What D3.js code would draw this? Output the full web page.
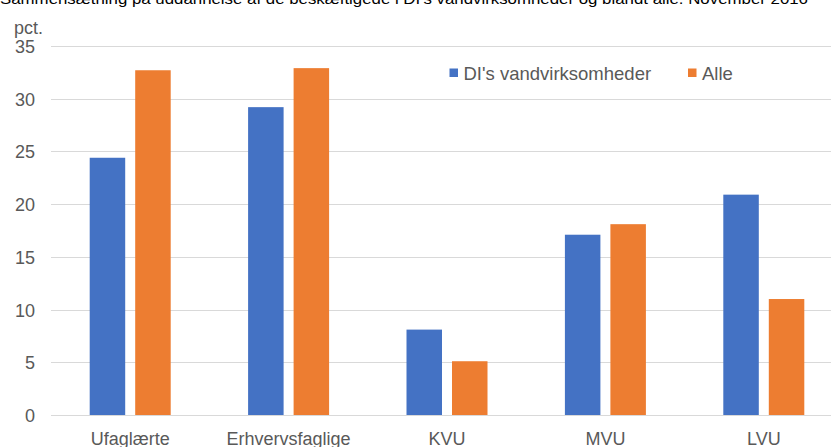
<!DOCTYPE html>
<html><head><meta charset="utf-8">
<script src="https://cdn.jsdelivr.net/npm/d3@7"></script>
<style>body{margin:0;background:#fff}svg{display:block}</style>
</head><body>
<script>
const titleText = "Sammensætning på uddannelse af de beskæftigede i DI's vandvirksomheder og blandt alle. November 2016";
const categories = ["Ufaglærte", "Erhvervsfaglige", "KVU", "MVU", "LVU"];
const seriesNames = ["DI's vandvirksomheder", "Alle"];
const diValues = [24.4, 29.2, 8.1, 17.1, 20.9];
const alleValues = [32.7, 32.9, 5.1, 18.1, 11.0];
const yTicks = [0, 5, 10, 15, 20, 25, 30, 35];
const colors = ["#4472c4", "#ed7d31"];

(function () {
const W = 831, H = 447;
const svg = d3.select("body").append("svg").attr("width", W).attr("height", H);
const font = "'Liberation Sans', Arial, sans-serif";

svg.append("text").attr("x", 0).attr("y", 4).attr("font-family", font)
  .attr("font-size", 15).attr("fill", "#000").attr("textLength", 808)
  .attr("lengthAdjust", "spacingAndGlyphs").text(titleText);

const pLeft = 51, pRight = 843, pTop = 46, pBottom = 415;
const x = d3.scaleBand().domain(categories).range([pLeft, pRight]).paddingInner(0).paddingOuter(0);
const y = d3.scaleLinear().domain([0, 35]).range([pBottom, pTop]);

// gridlines
svg.append("g").selectAll("line").data(yTicks).join("line")
  .attr("x1", pLeft).attr("x2", pRight)
  .attr("y1", d => Math.round(y(d)) + 0.5).attr("y2", d => Math.round(y(d)) + 0.5)
  .attr("stroke", "#d9d9d9").attr("stroke-width", 1.2);

// y axis labels
const yAxis = d3.axisLeft(y).tickValues(yTicks).tickSize(0).tickPadding(0);
const yg = svg.append("g").attr("transform", `translate(35,0)`).call(yAxis);
yg.select(".domain").remove();
yg.selectAll("text").attr("font-family", font).attr("font-size", 18).attr("fill", "#595959").attr("dy", "0.36em");

svg.append("text").attr("x", 14).attr("y", 34).attr("font-family", font)
  .attr("font-size", 18).attr("fill", "#595959").text("pct.");

// x axis labels
const xAxis = d3.axisBottom(x).tickSize(0).tickPadding(0);
const xg = svg.append("g").attr("transform", `translate(0,${pBottom})`).call(xAxis);
xg.select(".domain").remove();
xg.selectAll("text").attr("font-family", font).attr("font-size", 18).attr("fill", "#595959").attr("dy", "0").attr("y", 30);

// bars
const barW = 35.5, gap = 10;
const series = [diValues, alleValues];
series.forEach((vals, si) => {
  svg.append("g").selectAll("rect").data(vals).join("rect")
    .attr("x", (d, i) => x(categories[i]) + x.bandwidth() / 2 - gap / 2 - barW + si * (barW + gap))
    .attr("width", barW)
    .attr("y", d => y(d))
    .attr("height", d => y(0) - y(d))
    .attr("fill", colors[si]);
});

// legend
const legendX = [449.5, 688];
seriesNames.forEach((name, i) => {
  const g = svg.append("g");
  g.append("rect").attr("x", legendX[i]).attr("y", 68.5).attr("width", 8.5).attr("height", 8.5).attr("fill", colors[i]);
  g.append("text").attr("x", legendX[i] + 14).attr("y", 79.5).attr("font-family", font)
    .attr("font-size", 18.5).attr("fill", "#595959").text(name);
});
})();
</script>
</body></html>
